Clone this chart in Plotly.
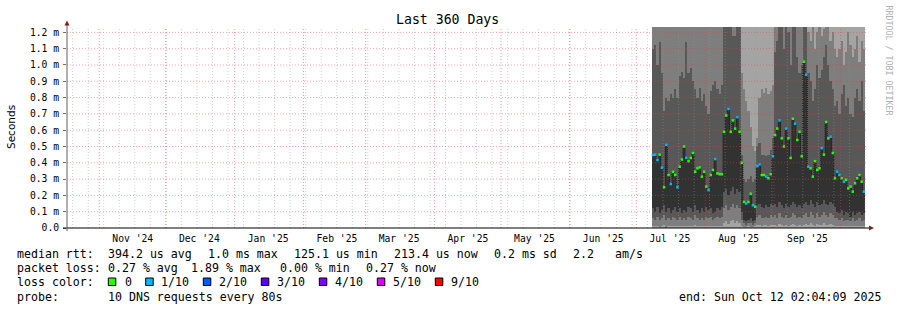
import plotly.graph_objects as go
import pandas as pd

# ---------------- data ----------------
range_start = "2024-10-17 11:00"
range_end = "2025-10-12 11:00"
first_day = "2025-07-08"
n_days = 96

month_labels = ["Nov '24", "Dec '24", "Jan '25", "Feb '25", "Mar '25", "Apr '25",
                "May '25", "Jun '25", "Jul '25", "Aug '25", "Sep '25"]
month_label_pos = ["2024-11-16 02:00", "2024-12-16 02:00", "2025-01-16 02:00", "2025-02-16 02:00",
                   "2025-03-16 02:00", "2025-04-16 02:00", "2025-05-16 02:00", "2025-06-16 02:00",
                   "2025-07-16 02:00", "2025-08-16 02:00", "2025-09-16 02:00"]

y_tick_vals = [0.0, 0.1, 0.2, 0.3, 0.4, 0.5, 0.6, 0.7, 0.8, 0.9, 1.0, 1.1, 1.2]
y_tick_text = ["0.0", "0.1 m", "0.2 m", "0.3 m", "0.4 m", "0.5 m", "0.6 m", "0.7 m",
               "0.8 m", "0.9 m", "1.0 m", "1.1 m", "1.2 m"]

# median rtt (ms) per day
median_rtt = [0.448, 0.45, 0.417, 0.45, 0.37, 0.25, 0.51, 0.325, 0.27, 0.345, 0.325, 0.25,
              0.376, 0.42, 0.50, 0.43, 0.41, 0.43, 0.46, 0.345, 0.366, 0.372, 0.315, 0.345,
              0.254, 0.233, 0.325, 0.356, 0.423, 0.335, 0.33, 0.33,
              0.59, 0.69, 0.73, 0.59, 0.66, 0.61, 0.68, 0.59,
              0.40, 0.16, 0.15, 0.16, 0.21, 0.14, 0.13,
              0.38, 0.39, 0.325, 0.325, 0.315, 0.305, 0.33, 0.44,
              0.57, 0.61, 0.66, 0.55, 0.50, 0.61, 0.55, 0.43, 0.67, 0.64, 0.54, 0.59, 0.44, 1.02,
              0.94, 0.376, 0.366, 0.315, 0.41, 0.356, 0.366, 0.49, 0.45, 0.65, 0.55, 0.56, 0.46, 0.305,
              0.345, 0.325, 0.305, 0.284, 0.295, 0.243, 0.254, 0.223, 0.274, 0.305, 0.325, 0.284, 0.223]

# packet loss (x/10) per day
loss = [1, 1, 1, 0, 1, 0, 1, 0, 1, 0, 0, 1, 0, 0, 0, 1, 0, 0, 0, 0, 0, 0, 0, 0,
        0, 1, 0, 0, 1, 0, 0, 0,
        0, 0, 1, 0, 0, 0, 1, 0,
        0, 0, 1, 0, 0, 1, 0,
        1, 1, 0, 0, 1, 0, 0, 1,
        0, 0, 1, 0, 0, 1, 0, 0, 0, 1, 0, 0, 0, 0,
        1, 1, 0, 0, 0, 0, 0, 1, 0, 0, 0, 1, 0, 0,
        1, 1, 0, 1, 0, 0, 0, 0, 0, 0, 0, 0, 1]

# smoke band boundaries (ms)
core_low = [0.12, 0.10, 0.13, 0.09, 0.11, 0.14, 0.10, 0.12, 0.09, 0.11, 0.13, 0.10, 0.12, 0.09, 0.11, 0.10,
            0.13, 0.12, 0.10, 0.14, 0.11, 0.09, 0.12, 0.10, 0.13, 0.11, 0.12, 0.09, 0.10, 0.12, 0.11, 0.13,
            0.22, 0.24, 0.20, 0.23, 0.25, 0.21, 0.24, 0.22,
            0.10, 0.05, 0.04, 0.05, 0.06, 0.04, 0.05,
            0.14, 0.15, 0.13, 0.12, 0.14, 0.13, 0.15, 0.14,
            0.15, 0.13, 0.16, 0.14, 0.12, 0.15, 0.13, 0.14, 0.16, 0.15, 0.13, 0.14, 0.12, 0.15,
            0.16, 0.14, 0.17, 0.15, 0.13, 0.16, 0.14, 0.15, 0.17, 0.15, 0.14, 0.16, 0.15, 0.13,
            0.10, 0.09, 0.11, 0.08, 0.10, 0.09, 0.07, 0.10, 0.08, 0.09, 0.10, 0.08, 0.09]

low_mid = [0.06, 0.05, 0.07, 0.05, 0.06, 0.08, 0.05, 0.06, 0.05, 0.07, 0.06, 0.05, 0.07, 0.05, 0.06, 0.05,
           0.07, 0.06, 0.05, 0.08, 0.06, 0.05, 0.06, 0.05, 0.07, 0.06, 0.07, 0.05, 0.06, 0.07, 0.06, 0.07,
           0.12, 0.14, 0.11, 0.13, 0.15, 0.12, 0.14, 0.12,
           0.05, 0.03, 0.02, 0.03, 0.03, 0.02, 0.03,
           0.07, 0.08, 0.06, 0.06, 0.07, 0.06, 0.08, 0.07,
           0.08, 0.06, 0.09, 0.07, 0.06, 0.08, 0.06, 0.07, 0.09, 0.08, 0.06, 0.07, 0.06, 0.08,
           0.09, 0.07, 0.10, 0.08, 0.06, 0.09, 0.07, 0.08, 0.10, 0.08, 0.07, 0.09, 0.08, 0.06,
           0.06, 0.05, 0.06, 0.04, 0.05, 0.05, 0.04, 0.06, 0.04, 0.05, 0.06, 0.04, 0.05]

low_light = [0.012, 0.008, 0.012, 0.006, 0.012, 0.018, 0.0, 0.012, 0.008, 0.012, 0.012, 0.008, 0.015, 0.008,
             0.012, 0.008, 0.012, 0.012, 0.008, 0.018, 0.012, 0.008, 0.012, 0.008, 0.012, 0.012, 0.015, 0.008,
             0.012, 0.012, 0.012, 0.015,
             0.03, 0.045, 0.025, 0.04, 0.05, 0.03, 0.04, 0.03,
             0.012, 0.006, 0.006, 0.008, 0.006, 0.006, 0.008,
             0.018, 0.02, 0.015, 0.018, 0.018, 0.015, 0.02, 0.018,
             0.018, 0.015, 0.025, 0.018, 0.012, 0.02, 0.015, 0.018, 0.025, 0.02, 0.015, 0.018, 0.012, 0.018,
             0.025, 0.018, 0.028, 0.02, 0.015, 0.025, 0.018, 0.02, 0.028, 0.02, 0.018, 0.025, 0.02, 0.015,
             0.015, 0.012, 0.015, 0.008, 0.012, 0.012, 0.008, 0.015, 0.008, 0.012, 0.015, 0.008, 0.012]

high_dark = [1.10, 1.12, 1.00, 1.14, 0.95, 0.72, 0.80, 0.78, 0.82, 0.80, 0.85, 0.80, 0.93, 0.96, 0.92, 1.14,
             0.95, 0.98, 0.90, 0.85, 0.80, 0.86, 0.78, 0.82, 0.75, 0.70, 0.84, 0.88, 0.90, 0.85, 0.82, 0.88,
             1.3, 1.3, 1.3, 1.3, 1.18, 1.18, 1.3, 1.3,
             0.45, 0.30, 0.28, 0.30, 0.32, 0.28, 0.30,
             0.50, 0.52, 0.45, 0.45, 0.44, 0.45, 0.48, 0.55,
             1.08, 1.15, 1.3, 1.3, 1.10, 1.3, 1.2, 1.0, 1.3, 1.3, 1.05, 0.95, 1.0, 1.3,
             1.3, 0.95, 0.90, 0.78, 0.85, 1.0, 0.92, 0.97, 1.05, 1.12, 1.0, 0.9, 0.85, 0.75,
             0.78, 0.70, 0.82, 0.88, 0.75, 0.80, 0.70, 0.68, 0.80, 0.85, 0.78, 0.90, 0.72]

high_mid = [1.3] * 32 + [1.3] * 8 + \
           [0.95, 0.85, 0.78, 0.72, 0.62, 0.50, 0.47, 0.55, 0.80, 0.85, 0.83, 0.86, 0.82, 0.84, 0.88] + \
           [1.3] * 14 + \
           [1.3, 1.2, 1.15, 1.25, 1.1, 1.2, 1.3, 1.18, 1.22, 1.3, 1.25, 1.15, 1.2, 1.1] + \
           [1.05, 1.1, 1.15, 1.0, 1.08, 1.2, 1.12, 1.05, 1.1, 1.18, 1.02, 1.15, 1.1]

smoke_ceiling = 1.3

loss_levels = ["0", "1/10", "2/10", "3/10", "4/10", "5/10", "9/10"]
loss_colors = ["#26ff00", "#00b8ff", "#0059ff", "#5e00ff", "#7e00ff", "#dd00ff", "#ff0000"]

# ---------------- figure ----------------
W, H = 897, 310
L, R, T, B = 67, 31, 27, 82
PW, PH = W - L - R, H - T - B
Y_TOP = 1.233


def xp(px):
    return (px - L) / PW


def yp(py):
    return (H - B - py) / PH


days = pd.date_range(first_day, periods=n_days, freq="D")
centers = days + pd.Timedelta(hours=12)
DAY_MS = 86400000

fig = go.Figure()


def band(lo, hi, color):
    fig.add_trace(go.Bar(
        x=days, base=lo, y=[h - l for l, h in zip(lo, hi)],
        width=DAY_MS, offset=0, marker=dict(color=color, line=dict(width=0)),
        hoverinfo="skip", showlegend=False))


zeros = [0.0] * n_days
band(zeros, [smoke_ceiling] * n_days, "#a4a4a4")
band(zeros, high_mid, "#7e7e7e")
band(low_mid, high_dark, "#585858")
band(core_low, median_rtt, "#323232")
band(zeros, low_light, "#a4a4a4")

fig.add_trace(go.Scatter(
    x=days, y=median_rtt, mode="lines", line=dict(shape="hv", color="#1a1a1a", width=1, dash="1px,1px"),
    hoverinfo="skip", showlegend=False))
fig.add_trace(go.Scatter(
    x=centers, y=median_rtt, mode="markers",
    marker=dict(symbol="square", size=2.5, color=[loss_colors[v] for v in loss], line=dict(width=0)),
    hoverinfo="skip", showlegend=False))

shapes = []
# horizontal grid
for v in y_tick_vals[1:]:
    shapes.append(dict(type="line", xref="paper", yref="y", x0=0, x1=1, y0=v, y1=v,
                       line=dict(color="rgba(235,60,60,0.45)", width=1, dash="1px,2px"), layer="above"))
# weekly grid
for d in pd.date_range("2024-10-20", "2025-10-12", freq="7D"):
    shapes.append(dict(type="line", xref="x", yref="paper", x0=d, x1=d, y0=0, y1=1,
                       line=dict(color="rgba(150,150,150,0.45)", width=1, dash="1px,2px"), layer="above"))
# monthly grid
for d in pd.date_range("2024-11-01", "2025-10-01", freq="MS"):
    shapes.append(dict(type="line", xref="x", yref="paper", x0=d, x1=d, y0=0, y1=1,
                       line=dict(color="rgba(235,60,60,0.5)", width=1, dash="1px,2px"), layer="above"))
# axes
shapes.append(dict(type="line", xref="paper", yref="paper", x0=xp(63), x1=xp(870), y0=0, y1=0,
                   line=dict(color="#000000", width=1), layer="above"))
shapes.append(dict(type="line", xref="paper", yref="paper", x0=0, x1=0, y0=yp(231), y1=yp(23),
                   line=dict(color="#606060", width=1), layer="above"))
# arrows
shapes.append(dict(type="path", xref="paper", yref="paper",
                   path=f"M {xp(64.5)} {yp(25.5)} L {xp(69.5)} {yp(25.5)} L {xp(67)} {yp(20.5)} Z",
                   fillcolor="#8b1a1a", line=dict(width=0), layer="above"))
shapes.append(dict(type="path", xref="paper", yref="paper",
                   path=f"M {xp(869)} {yp(225.5)} L {xp(869)} {yp(230.5)} L {xp(874)} {yp(228)} Z",
                   fillcolor="#8b1a1a", line=dict(width=0), layer="above"))

MONO = "DejaVu Sans Mono"
ann = []


def text(px, py, s, size=11.6, color="#000000", xanchor="left", angle=0, family=MONO):
    ann.append(dict(xref="paper", yref="paper", x=xp(px), y=yp(py), text=s, showarrow=False,
                    xanchor=xanchor, yanchor="middle", textangle=angle,
                    font=dict(family=family, size=size, color=color), borderpad=0))


text(447.5, 19.5, "Last 360 Days", size=13.2, xanchor="center")
text(11, 127, "Seconds", size=10.5, xanchor="center", angle=-90, family="DejaVu Sans")
text(888.5, 60, "RRDTOOL / TOBI OETIKER", size=8.3, color="#b0b0b0", xanchor="center", angle=90)

row1, row2, row3, row4 = 254, 268.3, 281.7, 296.5
text(16, row1, "median rtt:")
text(107.3, row1, "394.2 us avg")
text(207.3, row1, "1.0 ms max")
text(293.3, row1, "125.1 us min")
text(393.3, row1, "213.4 us now")
text(493.3, row1, "0.2 ms sd")
text(572.3, row1, "2.2")
text(614.3, row1, "am/s")

text(16, row2, "packet loss:")
text(107.3, row2, "0.27 % avg")
text(190, row2, "1.89 % max")
text(279.3, row2, "0.00 % min")
text(365, row2, "0.27 % now")

text(16, row3, "loss color:")
box_x = [108.3, 145.7, 203.3, 261.3, 319.3, 377.3, 435.3]
label_x = [124, 160, 218.3, 276, 334.3, 392.3, 450]
for bx, lx, lab, col in zip(box_x, label_x, loss_levels, loss_colors):
    shapes.append(dict(type="rect", xref="paper", yref="paper", x0=xp(bx), x1=xp(bx + 7.5),
                       y0=yp(285.5), y1=yp(278), fillcolor=col, line=dict(color="#000000", width=1)))
    text(lx, row3, lab)

text(16, row4, "probe:")
text(107.3, row4, "10 DNS requests every 80s")
text(678.3, row4, "end: Sun Oct 12 02:04:09 2025")

fig.update_layout(
    width=W, height=H, margin=dict(l=L, r=R, t=T, b=B, pad=0),
    paper_bgcolor="#ffffff", plot_bgcolor="#ffffff",
    barmode="overlay", bargap=0, showlegend=False,
    shapes=shapes, annotations=ann,
    xaxis=dict(type="date", range=[range_start, range_end], showgrid=False, zeroline=False,
               showline=False, tickmode="array", tickvals=month_label_pos, ticktext=month_labels,
               ticks="", tickfont=dict(family=MONO, size=9.7, color="#000000"), ticklabelstandoff=3),
    yaxis=dict(range=[0, Y_TOP], showgrid=False, zeroline=False, showline=False,
               tickmode="array", tickvals=y_tick_vals, ticktext=y_tick_text,
               ticks="outside", ticklen=3, tickcolor="#707070", tickwidth=1,
               tickfont=dict(family=MONO, size=9.7, color="#000000"), ticklabelstandoff=2),
)

fig.write_html("out.html")
